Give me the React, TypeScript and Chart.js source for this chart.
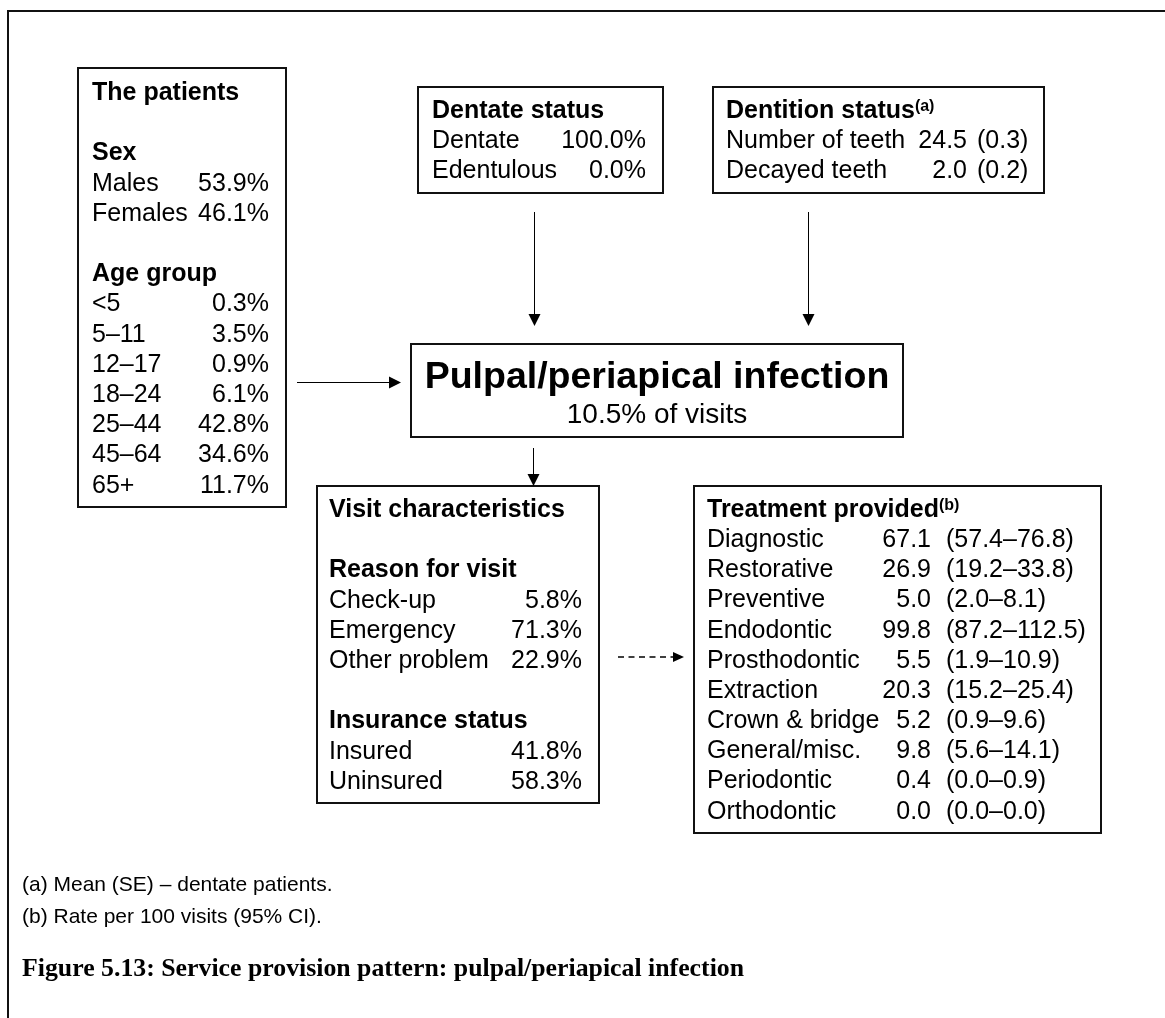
import { useEffect, useRef } from "react";
import { Chart, registerables } from "chart.js";

Chart.register(...registerables);

// ---------------- DATA ----------------
const sexLabels = ["Males", "Females"];
const sexShares = [53.9, 46.1];

const ageGroups = ["<5", "5–11", "12–17", "18–24", "25–44", "45–64", "65+"];
const ageShares = [0.3, 3.5, 0.9, 6.1, 42.8, 34.6, 11.7];

const dentateLabels = ["Dentate", "Edentulous"];
const dentateShares = [100.0, 0.0];

const dentitionLabels = ["Number of teeth", "Decayed teeth"];
const dentitionMeans = [24.5, 2.0];
const dentitionSE = [0.3, 0.2];

const conditionName = "Pulpal/periapical infection";
const conditionVisitShare = 10.5;

const reasonLabels = ["Check-up", "Emergency", "Other problem"];
const reasonShares = [5.8, 71.3, 22.9];

const insuranceLabels = ["Insured", "Uninsured"];
const insuranceShares = [41.8, 58.3];

const treatmentLabels = [
  "Diagnostic",
  "Restorative",
  "Preventive",
  "Endodontic",
  "Prosthodontic",
  "Extraction",
  "Crown & bridge",
  "General/misc.",
  "Periodontic",
  "Orthodontic",
];
const treatmentRates = [67.1, 26.9, 5.0, 99.8, 5.5, 20.3, 5.2, 9.8, 0.4, 0.0];
const treatmentLow = [57.4, 19.2, 2.0, 87.2, 1.9, 15.2, 0.9, 5.6, 0.0, 0.0];
const treatmentHigh = [76.8, 33.8, 8.1, 112.5, 10.9, 25.4, 9.6, 14.1, 0.9, 0.0];

const footnotes = ["(a) Mean (SE) – dentate patients.", "(b) Rate per 100 visits (95% CI)."];
const caption = "Figure 5.13: Service provision pattern: pulpal/periapical infection";

// ---------------- LAYOUT ----------------
const W = 1165;
const H = 1018;
const SANS = '"Liberation Sans", Arial, Helvetica, sans-serif';
const SERIF = '"Liberation Serif", "Times New Roman", serif';
const BODY = 25;
const LINE = 30.2;

type Box = { x0: number; y0: number; x1: number; y1: number };
const boxes: Record<string, Box> = {
  patients: { x0: 78, y0: 68, x1: 286, y1: 507 },
  dentate: { x0: 418, y0: 87, x1: 663, y1: 193 },
  dentition: { x0: 713, y0: 87, x1: 1044, y1: 193 },
  main: { x0: 411, y0: 344, x1: 903, y1: 437 },
  visit: { x0: 317, y0: 486, x1: 599, y1: 803 },
  treatment: { x0: 694, y0: 486, x1: 1101, y1: 833 },
};

const pct = (v: number) => v.toFixed(1) + "%";
const f1 = (v: number) => v.toFixed(1);

type Row = { i: number; label: string; bold?: boolean; sup?: string; value?: string; extra?: string };

const patientRows: Row[] = [
  { i: 0, label: "The patients", bold: true },
  { i: 2, label: "Sex", bold: true },
  ...sexLabels.map((l, k) => ({ i: 3 + k, label: l, value: pct(sexShares[k]) })),
  { i: 6, label: "Age group", bold: true },
  ...ageGroups.map((l, k) => ({ i: 7 + k, label: l, value: pct(ageShares[k]) })),
];

const dentateRows: Row[] = [
  { i: 0, label: "Dentate status", bold: true },
  ...dentateLabels.map((l, k) => ({ i: 1 + k, label: l, value: pct(dentateShares[k]) })),
];

const dentitionRows: Row[] = [
  { i: 0, label: "Dentition status", bold: true, sup: "(a)" },
  ...dentitionLabels.map((l, k) => ({
    i: 1 + k,
    label: l,
    value: f1(dentitionMeans[k]),
    extra: "(" + f1(dentitionSE[k]) + ")",
  })),
];

const visitRows: Row[] = [
  { i: 0, label: "Visit characteristics", bold: true },
  { i: 2, label: "Reason for visit", bold: true },
  ...reasonLabels.map((l, k) => ({ i: 3 + k, label: l, value: pct(reasonShares[k]) })),
  { i: 7, label: "Insurance status", bold: true },
  ...insuranceLabels.map((l, k) => ({ i: 8 + k, label: l, value: pct(insuranceShares[k]) })),
];

const treatmentRows: Row[] = [
  { i: 0, label: "Treatment provided", bold: true, sup: "(b)" },
  ...treatmentLabels.map((l, k) => ({
    i: 1 + k,
    label: l,
    value: f1(treatmentRates[k]),
    extra: "(" + f1(treatmentLow[k]) + "–" + f1(treatmentHigh[k]) + ")",
  })),
];

type Panel = { box: Box; rows: Row[]; textX: number; base: number; line: number; valueRight: number; extraLeft?: number };
const panels: Panel[] = [
  { box: boxes.patients, rows: patientRows, textX: 92, base: 100, line: LINE, valueRight: 269 },
  { box: boxes.dentate, rows: dentateRows, textX: 432, base: 118, line: 30, valueRight: 646 },
  { box: boxes.dentition, rows: dentitionRows, textX: 726, base: 118, line: 30, valueRight: 967, extraLeft: 977 },
  { box: boxes.visit, rows: visitRows, textX: 329, base: 517, line: LINE, valueRight: 582 },
  { box: boxes.treatment, rows: treatmentRows, textX: 707, base: 517, line: 30.15, valueRight: 931, extraLeft: 946 },
];

type Arrow = { x0: number; y0: number; x1: number; y1: number; dashed?: boolean; head: number; half: number };
const arrows: Arrow[] = [
  { x0: 534.5, y0: 212, x1: 534.5, y1: 326, head: 12, half: 6 },
  { x0: 808.5, y0: 212, x1: 808.5, y1: 326, head: 12, half: 6 },
  { x0: 297, y0: 382.5, x1: 401, y1: 382.5, head: 12, half: 6 },
  { x0: 533.5, y0: 448, x1: 533.5, y1: 486, head: 12, half: 6 },
  { x0: 618, y0: 657, x1: 684, y1: 657, dashed: true, head: 11, half: 5 },
];

const diagramPlugin = {
  id: "diagram",
  beforeDraw(chart: any) {
    const ctx = chart.ctx as CanvasRenderingContext2D;
    ctx.save();
    ctx.fillStyle = "#ffffff";
    ctx.fillRect(0, 0, chart.width, chart.height);
    ctx.restore();
  },
  afterDraw(chart: any) {
    const ctx = chart.ctx as CanvasRenderingContext2D;
    const xs = chart.scales.x;
    const ys = chart.scales.y;
    const X = (v: number) => xs.getPixelForValue(v);
    const Y = (v: number) => ys.getPixelForValue(v);
    ctx.save();
    ctx.strokeStyle = "#111111";
    ctx.fillStyle = "#000000";
    ctx.textBaseline = "alphabetic";

    // outer frame (top and left edges)
    ctx.lineWidth = 2;
    ctx.beginPath();
    ctx.moveTo(X(W + 5), Y(11));
    ctx.lineTo(X(8), Y(11));
    ctx.lineTo(X(8), Y(H + 5));
    ctx.stroke();

    // boxes
    Object.values(boxes).forEach((b) => {
      ctx.lineWidth = 2;
      ctx.strokeRect(X(b.x0), Y(b.y0), X(b.x1) - X(b.x0), Y(b.y1) - Y(b.y0));
    });

    // panel texts
    panels.forEach((p) => {
      p.rows.forEach((r) => {
        const y = Y(p.base + r.i * p.line);
        ctx.textAlign = "left";
        ctx.font = `${r.bold ? "bold " : ""}${BODY}px ${SANS}`;
        ctx.fillText(r.label, X(p.textX), y);
        if (r.sup) {
          const w = ctx.measureText(r.label).width;
          ctx.font = `bold 16px ${SANS}`;
          ctx.fillText(r.sup, X(p.textX) + w, y - 7);
        }
        if (r.value !== undefined) {
          ctx.font = `${BODY}px ${SANS}`;
          ctx.textAlign = "right";
          ctx.fillText(r.value, X(p.valueRight), y);
        }
        if (r.extra !== undefined && p.extraLeft !== undefined) {
          ctx.font = `${BODY}px ${SANS}`;
          ctx.textAlign = "left";
          ctx.fillText(r.extra, X(p.extraLeft), y);
        }
      });
    });

    // central condition box
    const m = boxes.main;
    const cx = X((m.x0 + m.x1) / 2);
    ctx.textAlign = "center";
    ctx.font = `bold 37.5px ${SANS}`;
    ctx.fillText(conditionName, cx, Y(388));
    ctx.font = `28px ${SANS}`;
    ctx.fillText(pct(conditionVisitShare) + " of visits", cx, Y(423));

    // arrows
    ctx.strokeStyle = "#000000";
    arrows.forEach((a) => {
      ctx.lineWidth = a.dashed ? 1.6 : 1;
      ctx.setLineDash(a.dashed ? [6, 4.5] : []);
      const dx = a.x1 - a.x0;
      const dy = a.y1 - a.y0;
      const len = Math.hypot(dx, dy);
      const ux = dx / len;
      const uy = dy / len;
      const bx = a.x1 - ux * a.head;
      const by = a.y1 - uy * a.head;
      ctx.beginPath();
      ctx.moveTo(X(a.x0), Y(a.y0));
      ctx.lineTo(X(bx), Y(by));
      ctx.stroke();
      ctx.setLineDash([]);
      ctx.beginPath();
      ctx.moveTo(X(a.x1), Y(a.y1));
      ctx.lineTo(X(bx - uy * a.half), Y(by + ux * a.half));
      ctx.lineTo(X(bx + uy * a.half), Y(by - ux * a.half));
      ctx.closePath();
      ctx.fill();
    });

    // footnotes
    ctx.textAlign = "left";
    ctx.font = `21px ${SANS}`;
    footnotes.forEach((t, k) => {
      ctx.fillText(t, X(22), Y(891 + k * 32));
    });

    // caption (fit to reference width)
    ctx.font = `bold 20px ${SERIF}`;
    const cw = ctx.measureText(caption).width;
    const size = (20 * 722) / cw;
    ctx.font = `bold ${size.toFixed(2)}px ${SERIF}`;
    ctx.fillText(caption, X(22), Y(976));

    ctx.restore();
  },
};

export default function App() {
  const ref = useRef<HTMLCanvasElement | null>(null);
  useEffect(() => {
    if (!ref.current) return;
    const chart = new Chart(ref.current, {
      type: "scatter",
      data: { datasets: [{ data: [], pointRadius: 0 }] },
      options: {
        animation: false,
        responsive: false,
        maintainAspectRatio: false,
        devicePixelRatio: 1,
        layout: { padding: 0 },
        plugins: { legend: { display: false }, tooltip: { enabled: false }, title: { display: false } },
        scales: {
          x: { type: "linear", min: 0, max: W, display: false },
          y: { type: "linear", min: 0, max: H, reverse: true, display: false },
        },
      },
      plugins: [diagramPlugin],
    });
    if (document.fonts && document.fonts.ready) {
      document.fonts.ready.then(() => chart.draw());
    }
    return () => chart.destroy();
  }, []);
  return (
    <div style={{ position: "absolute", left: 0, top: 0, width: W, height: H, background: "#fff" }}>
      <canvas ref={ref} width={W} height={H} style={{ display: "block", width: W, height: H }} />
    </div>
  );
}
